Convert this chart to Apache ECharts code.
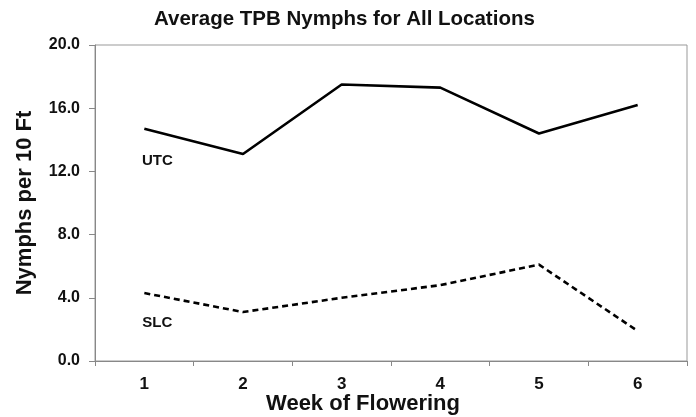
<!DOCTYPE html>
<html><head><meta charset="utf-8">
<script src="https://cdn.jsdelivr.net/npm/echarts@6/dist/echarts.min.js"></script>
<style>html,body{margin:0;padding:0;background:#fff}#c{width:696px;height:417px}</style>
</head><body><div id="c"></div>
<script>
const weeks = ['1','2','3','4','5','6'];
const utc = [14.7, 13.1, 17.5, 17.3, 14.4, 16.2];
const slc = [4.3, 3.1, 4.0, 4.8, 6.1, 1.9];
const yTicks = {min: 0, max: 20, interval: 4};

const FONT = '"Liberation Sans", Arial, sans-serif';
function withLabel(arr, name, dy) {
  return arr.map((v, i) => i === 0 ? {value: v, label: {show: true, formatter: name, position: 'bottom', distance: 0, offset: [13, dy], fontFamily: FONT, fontWeight: 'bold', fontSize: 15, color: '#111'}} : v);
}
const chart = echarts.init(document.getElementById('c'), null, {renderer: 'canvas'});
chart.setOption({
  animation: false,
  backgroundColor: '#fff',
  title: {text: 'Average TPB Nymphs for All Locations', left: 149, top: 4,
    textStyle: {fontFamily: FONT, fontWeight: 'bold', fontSize: 20.5, color: '#111'}},
  grid: {left: 95, right: 9, top: 45, bottom: 56, show: true, borderColor: '#999', borderWidth: 1,
    containLabel: false, outerBoundsMode: 'none'},
  xAxis: {type: 'category', data: weeks, boundaryGap: true,
    name: 'Week of Flowering', nameLocation: 'middle', nameGap: 32, nameMoveOverlap: false,
    nameTextStyle: {fontFamily: FONT, fontWeight: 'bold', fontSize: 22, color: '#111', padding: [0, 0, 0, -56]},
    axisLine: {lineStyle: {color: '#888', width: 1}},
    axisTick: {show: true, inside: false, length: 5, alignWithLabel: false, lineStyle: {color: '#888'}},
    axisLabel: {fontFamily: FONT, fontWeight: 'bold', fontSize: 17, color: '#111', margin: 15},
    splitLine: {show: false}},
  yAxis: {type: 'value', min: yTicks.min, max: yTicks.max, interval: yTicks.interval,
    name: 'Nymphs per 10 Ft', nameLocation: 'middle', nameGap: 59, nameMoveOverlap: false,
    nameTextStyle: {fontFamily: FONT, fontWeight: 'bold', fontSize: 22, color: '#111'},
    axisLine: {show: true, lineStyle: {color: '#888', width: 1}},
    axisTick: {show: true, inside: false, length: 6, lineStyle: {color: '#888'}},
    axisLabel: {fontFamily: FONT, fontWeight: 'bold', fontSize: 16, color: '#111', margin: 15,
      formatter: v => v.toFixed(1)},
    splitLine: {show: false}},
  series: [
    {name: 'UTC', type: 'line', data: withLabel(utc, 'UTC', 25), symbol: 'circle', symbolSize: 0.01, showSymbol: true,
      itemStyle: {color: '#000'}, lineStyle: {color: '#000', width: 2.6, type: 'solid'}},
    {name: 'SLC', type: 'line', data: withLabel(slc, 'SLC', 22), symbol: 'circle', symbolSize: 0.01, showSymbol: true,
      itemStyle: {color: '#000'}, lineStyle: {color: '#000', width: 2.6, type: [6, 4]}}
  ]
});
</script></body></html>
